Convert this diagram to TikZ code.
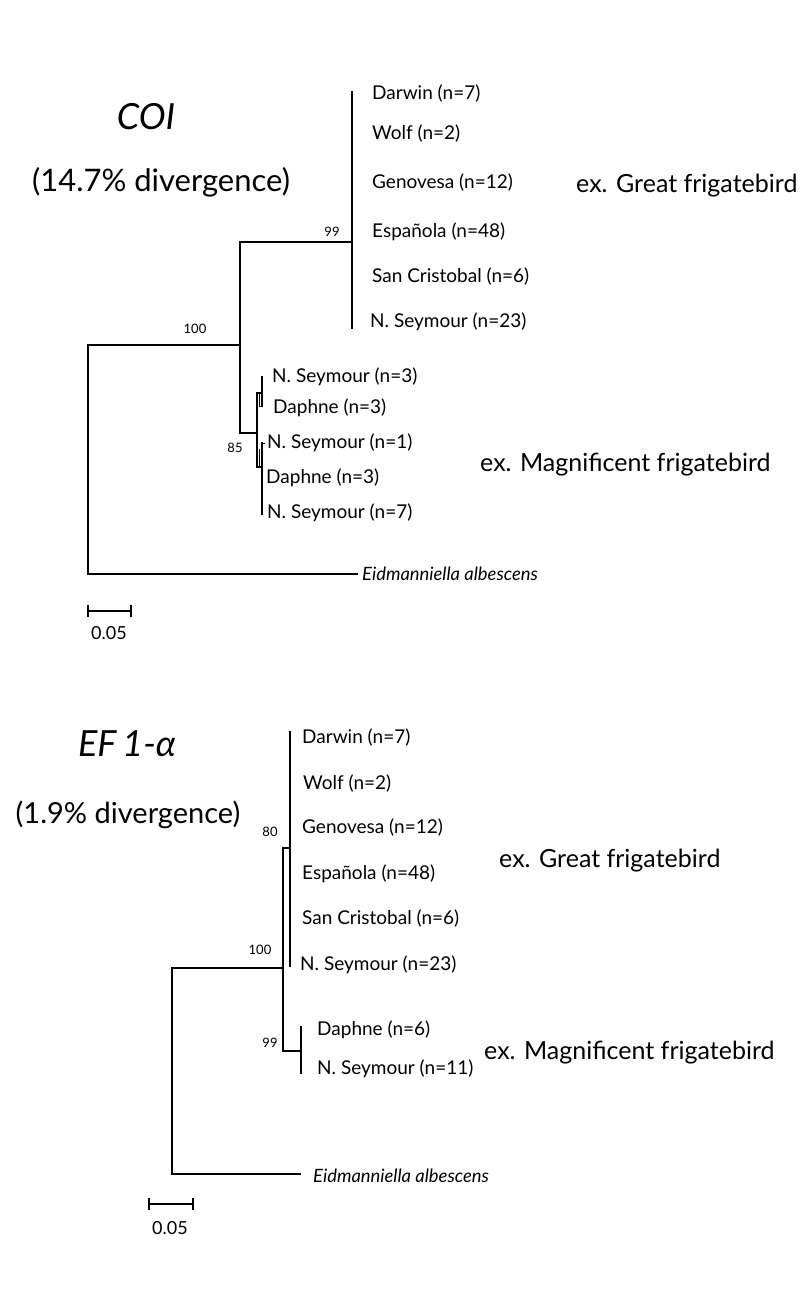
\documentclass[tikz,border=0pt]{standalone}
\usepackage{fontspec}
\setmainfont{Lato}
\usetikzlibrary{calc}
\begin{document}
\begin{tikzpicture}[x=1pt,y=-1pt,
  br/.style={line width=1.7pt, line cap=rect},
  thin/.style={line width=0.8pt},
  leaf/.style={anchor=west, inner sep=0pt, font=\fontsize{19}{19}\selectfont},
  boot/.style={inner sep=0pt, font=\fontsize{13}{13}\selectfont},
  scl/.style={inner sep=0pt, font=\fontsize{18}{18}\selectfont},
  big/.style={anchor=west, inner sep=0pt, font=\fontsize{25}{25}\selectfont},
  title/.style={inner sep=0pt, font=\fontsize{36}{36}\selectfont\itshape},
  og/.style={anchor=west, inner sep=0pt, font=\fontsize{18.4}{18.4}\selectfont\itshape}]
\useasboundingbox[fill=white] (0,0) rectangle (804,1303);

% ================= COI =================
\node[title] (t1) at (146,117) {COI};
\node[inner sep=0pt, font=\fontsize{31}{31}\selectfont] (d1) at (161,182) {(14.7\% divergence)};

\coordinate (a-root) at (88,345);
\coordinate (a-rootb) at (88,574);
\coordinate (a-og) at (357,574);
\coordinate (a-n100) at (240,345);
\coordinate (a-n100t) at (240,242);
\coordinate (a-n100b) at (240,433);
\coordinate (a-nG) at (352,242);
\coordinate (a-Gt) at (352,92);
\coordinate (a-Gb) at (352,328);
\coordinate (a-nM) at (257,433);
\coordinate (a-Mt) at (257,393);
\coordinate (a-Mb) at (257,467);
\coordinate (a-m1) at (262,393);
\coordinate (a-m1t) at (262,377);
\coordinate (a-m1b) at (262,406);
\coordinate (a-m2) at (262,467);
\coordinate (a-m2t) at (262,443);
\coordinate (a-m2b) at (262,514);

\draw[br] (a-og) -- (a-rootb) -- (a-root) -- (a-n100);
\draw[br] (a-n100b) -- (a-n100t) -- (a-nG);
\draw[br] (a-Gt) -- (a-Gb);
\draw[br] (a-n100b) -- (a-nM);
\draw[br] (a-Mt) -- (a-Mb);
\draw[br] (a-Mt) -- (a-m1);
\draw[br] (a-m1t) -- (a-m1b);
\draw[thin] (259,393) -- (259,406) -- (a-m1b);
\draw[br] (a-Mb) -- (a-m2);
\draw[br] (a-m2t) -- (a-m2b);
\draw[thin] (a-m2t) -- (265,443);
\draw[thin] (259.3,449) -- (259.3,467);

\node[boot] (b99a) at (332,232) {99};
\node[boot] (b100a) at (195,329) {100};
\node[boot] (b85a) at (235,448) {85};

\node[leaf] (l1) at (372,94) {Darwin (n=7)};
\node[leaf] (l2) at (372,134) {Wolf (n=2)};
\node[leaf] (l3) at (372,183) {Genovesa (n=12)};
\node[leaf] (l4) at (372,232) {Española (n=48)};
\node[leaf] (l5) at (372,277) {San Cristobal (n=6)};
\node[leaf] (l6) at (370,322) {N. Seymour (n=23)};

\node[leaf] (l7) at (272,377) {N. Seymour (n=3)};
\node[leaf] (l8) at (273,408) {Daphne (n=3)};
\node[leaf] (l9) at (267,443) {N. Seymour (n=1)};
\node[leaf] (l10) at (266,478) {Daphne (n=3)};
\node[leaf] (l11) at (267,513) {N. Seymour (n=7)};

\node[og] (oga) at (362,574) {Eidmanniella albescens};

\node[big] (g1) at (576,186) {ex. Great frigatebird};
\node[big] (mg1) at (480,465) {ex. Magnificent frigatebird};

\coordinate (sa1) at (88,611);
\coordinate (sa2) at (131,611);
\draw[br] (sa1) -- (sa2);
\draw[br] ($(sa1)+(0,-5)$) -- ($(sa1)+(0,5)$);
\draw[br] ($(sa2)+(0,-5)$) -- ($(sa2)+(0,5)$);
\node[scl] (sca) at (109,633) {0.05};

% ================= EF1-alpha =================
\node[title] (t2) at (127,744) {EF\,1-α};
\node[inner sep=0pt, font=\fontsize{29}{29}\selectfont] (d2) at (128,815) {(1.9\% divergence)};

\coordinate (b-root) at (172,968);
\coordinate (b-rootb) at (172,1174);
\coordinate (b-og) at (300,1174);
\coordinate (b-n100) at (283,968);
\coordinate (b-n100t) at (283,848);
\coordinate (b-n100b) at (283,1051);
\coordinate (b-nG) at (290,848);
\coordinate (b-Gt) at (290,732);
\coordinate (b-Gb) at (290,966);
\coordinate (b-nM) at (301,1051);
\coordinate (b-Mt) at (301,1027);
\coordinate (b-Mb) at (301,1073);

\draw[br] (b-og) -- (b-rootb) -- (b-root) -- (b-n100);
\draw[br] (b-n100t) -- (b-n100b);
\draw[br] (b-n100t) -- (b-nG);
\draw[br] (b-Gt) -- (b-Gb);
\draw[br] (b-n100b) -- (b-nM);
\draw[br] (b-Mt) -- (b-Mb);

\node[boot] (b80b) at (270,832) {80};
\node[boot] (b100b) at (260,950) {100};
\node[boot] (b99b) at (270,1043) {99};

\node[leaf] (k1) at (302,738) {Darwin (n=7)};
\node[leaf] (k2) at (303,784) {Wolf (n=2)};
\node[leaf] (k3) at (302,828) {Genovesa (n=12)};
\node[leaf] (k4) at (302,874) {Española (n=48)};
\node[leaf] (k5) at (302,919) {San Cristobal (n=6)};
\node[leaf] (k6) at (300,965) {N. Seymour (n=23)};
\node[leaf] (k7) at (317,1030) {Daphne (n=6)};
\node[leaf] (k8) at (317,1069) {N. Seymour (n=11)};

\node[og] (ogb) at (313,1176) {Eidmanniella albescens};

\node[big] (g2) at (499,861) {ex. Great frigatebird};
\node[big] (mg2) at (484,1053) {ex. Magnificent frigatebird};

\coordinate (sb1) at (149,1204);
\coordinate (sb2) at (193,1204);
\draw[br] (sb1) -- (sb2);
\draw[br] ($(sb1)+(0,-5)$) -- ($(sb1)+(0,5)$);
\draw[br] ($(sb2)+(0,-5)$) -- ($(sb2)+(0,5)$);
\node[scl] (scb) at (170,1228) {0.05};
\end{tikzpicture}
\end{document}
